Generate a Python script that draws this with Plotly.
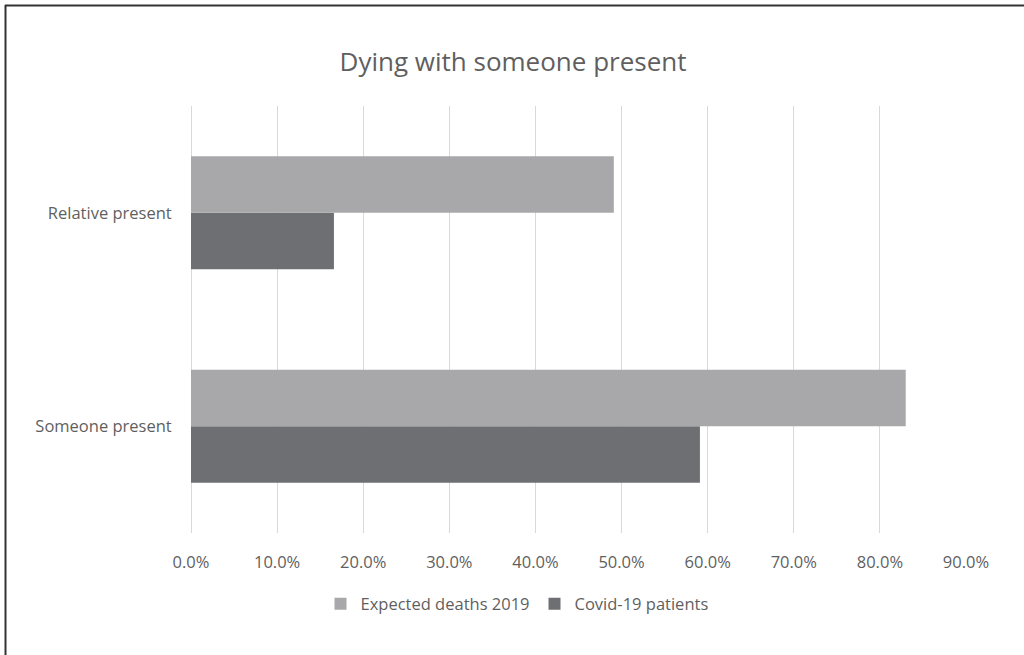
import plotly.graph_objects as go

categories = ["Someone present", "Relative present"]
expected_2019 = [0.830, 0.491]
covid_19 = [0.591, 0.166]
tick_vals = [0.0, 0.1, 0.2, 0.3, 0.4, 0.5, 0.6, 0.7, 0.8, 0.9]
tick_text = ["0.0%", "10.0%", "20.0%", "30.0%", "40.0%", "50.0%", "60.0%", "70.0%", "80.0%", "90.0%"]

FONT = "Open Sans"
TXT = "#5f5f5f"

fig = go.Figure()
fig.add_trace(go.Bar(y=categories, x=covid_19, orientation="h", name="Covid-19 patients",
                     marker=dict(color="#6e6f72", line=dict(width=0))))
fig.add_trace(go.Bar(y=categories, x=expected_2019, orientation="h", name="Expected deaths 2019",
                     marker=dict(color="#a8a8aa", line=dict(width=0))))

fig.update_layout(
    width=1024, height=655,
    margin=dict(l=191, r=58, t=106, b=122),
    paper_bgcolor="white", plot_bgcolor="white",
    barmode="group", bargap=0.47, bargroupgap=0,
    title=dict(text="Dying with someone present", x=0.501, xanchor="center",
               y=1 - 62 / 655, yanchor="middle",
               font=dict(family=FONT, size=26, color=TXT)),
    xaxis=dict(range=[0, 0.9], tickvals=tick_vals, ticktext=tick_text,
               showgrid=True, gridcolor="#d9d9d9", gridwidth=1,
               zeroline=True, zerolinecolor="#d9d9d9", zerolinewidth=1, showline=False,
               ticks="outside", ticklen=14, tickcolor="rgba(0,0,0,0)",
               tickfont=dict(family=FONT, size=16.5, color=TXT), fixedrange=True),
    yaxis=dict(showgrid=False, zeroline=False, showline=False,
               ticks="outside", ticklen=15, tickcolor="rgba(0,0,0,0)",
               tickfont=dict(family=FONT, size=16.5, color=TXT)),
    legend=dict(orientation="h", traceorder="reversed",
                x=(517 - 191) / 775, xanchor="center",
                y=(533 - 604) / 427, yanchor="middle",
                font=dict(family=FONT, size=16.5, color=TXT),
                itemwidth=30),
    showlegend=True,
    shapes=[
        dict(type="line", xref="paper", yref="paper",
             x0=(5 - 191) / 775, x1=(1024 - 191) / 775,
             y0=(533 - 5.5) / 427, y1=(533 - 5.5) / 427,
             line=dict(color="#333333", width=2)),
        dict(type="line", xref="paper", yref="paper",
             x0=(5.5 - 191) / 775, x1=(5.5 - 191) / 775,
             y0=(533 - 5) / 427, y1=(533 - 655) / 427,
             line=dict(color="#333333", width=2)),
    ],
)

fig.write_html("out.html")
